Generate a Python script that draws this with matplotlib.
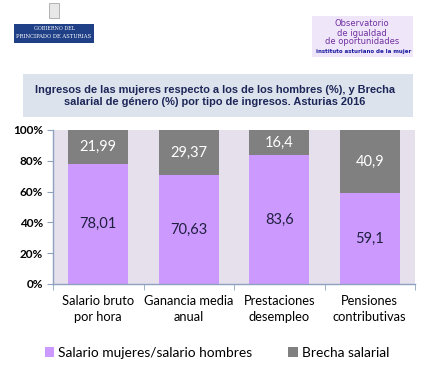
import matplotlib
matplotlib.use("Agg")
import matplotlib.pyplot as plt
from matplotlib.patches import Rectangle
import numpy as np

categories = ["Salario bruto\npor hora", "Ganancia media\nanual", "Prestaciones\ndesempleo", "Pensiones\ncontributivas"]
ratio_vals = [78.01, 70.63, 83.6, 59.1]
gap_vals = [21.99, 29.37, 16.4, 40.9]
ratio_labels = ["78,01", "70,63", "83,6", "59,1"]
gap_labels = ["21,99", "29,37", "16,4", "40,9"]
yticks = [0, 20, 40, 60, 80, 100]
ytick_labels = ["0%", "20%", "40%", "60%", "80%", "100%"]

W, H = 445, 375
fig = plt.figure(figsize=(W/100, H/100), dpi=100)
fig.patch.set_facecolor("white")

FONT = ["Lato", "DejaVu Sans"]
purple = "#cc99ff"
gray = "#808080"

def fx(x): return x / W
def fy(y): return 1 - y / H

# Header logos
fig.patches.append(Rectangle((fx(14), fy(43)), fx(80), 19/H, transform=fig.transFigure,
                             facecolor="#1f3f86", edgecolor="none"))
fig.text(fx(54), fy(29), "GOBIERNO DEL", fontsize=3.5, color="white", ha="center", va="center",
         family="DejaVu Serif")
fig.text(fx(54), fy(37), "PRINCIPADO DE ASTURIAS", fontsize=3.8, color="white", ha="center", va="center",
         family="DejaVu Serif")
fig.patches.append(Rectangle((fx(49), fy(18)), fx(10), 15/H, transform=fig.transFigure,
                             facecolor="#e8e8e8", edgecolor="#999999", linewidth=0.5))

fig.patches.append(Rectangle((fx(312), fy(57)), fx(101), 41/H, transform=fig.transFigure,
                             facecolor="#f0e6fa", edgecolor="none"))
fig.text(fx(362), fy(24), "Observatorio", fontsize=6, color="#7030a0", ha="center", va="center", family=["DejaVu Sans"])
fig.text(fx(362), fy(33), "de igualdad", fontsize=6, color="#7030a0", ha="center", va="center", family=["DejaVu Sans"])
fig.text(fx(362), fy(42), "de oportunidades", fontsize=6, color="#7030a0", ha="center", va="center", family=["DejaVu Sans"])
fig.text(fx(364), fy(51), "instituto asturiano de la mujer", fontsize=4.0, color="#1a1aa0", ha="center",
         va="center", fontweight="bold", family=["Liberation Sans Narrow", "DejaVu Sans"])

# Title box
fig.patches.append(Rectangle((fx(23), fy(117)), fx(390), 43/H, transform=fig.transFigure,
                             facecolor="#dde3ed", edgecolor="none"))
fig.text(fx(215), fy(96), "Ingresos de las mujeres respecto a los de los hombres (%), y Brecha\n"
         "salarial de género (%) por tipo de ingresos. Asturias 2016",
         fontsize=7.9, color="#1c2657", ha="center", va="center", fontweight="bold",
         linespacing=1.25, family=["Liberation Sans Narrow", "Liberation Sans", "DejaVu Sans"])

# Axes
ax = fig.add_axes([fx(53), fy(284), (415-53)/W, (284-130)/H])
ax.set_facecolor("#e6e0ec")
x = np.arange(len(categories))
bw = 0.66
ax.bar(x, ratio_vals, bw, color=purple, label="Salario mujeres/salario hombres", zorder=2)
ax.bar(x, gap_vals, bw, bottom=ratio_vals, color=gray, label="Brecha salarial", zorder=2)
for i in range(len(categories)):
    ax.text(x[i], ratio_vals[i]/2, ratio_labels[i], ha="center", va="center", fontsize=10.5,
            color="#1f1f3f", family=FONT)
    ax.text(x[i], ratio_vals[i] + gap_vals[i]/2, gap_labels[i], ha="center", va="center", fontsize=10.5,
            color="white", family=FONT)

ax.set_xlim(-0.5, len(categories) - 0.5)
ax.set_ylim(0, 100)
ax.set_yticks(yticks)
ax.set_yticklabels(ytick_labels, family=FONT, fontsize=8.5, fontweight="bold")
ax.set_xticks(x)
ax.set_xticklabels([""] * len(categories))
for i, c in enumerate(categories):
    for j, line in enumerate(c.split("\n")):
        ax.annotate(line, xy=(x[i], 0), xycoords=("data", "axes fraction"),
                    xytext=(0, -12 - j * 12), textcoords="offset points",
                    ha="center", va="center", fontsize=9.3, family=FONT, annotation_clip=False)
ax.set_xticks(np.arange(len(categories) + 1) - 0.5, minor=True)
ax.tick_params(axis="x", which="major", length=0, pad=8)
ax.tick_params(axis="x", which="minor", length=4, color="#8ea2c0", direction="out")
ax.tick_params(axis="y", length=4, color="#8ea2c0", direction="out", pad=3)
for s in ["top", "right"]:
    ax.spines[s].set_visible(False)
for s in ["left", "bottom"]:
    ax.spines[s].set_color("#8ea2c0")
    ax.spines[s].set_linewidth(1)

handles, labels = ax.get_legend_handles_labels()
leg = fig.legend(handles, labels, loc="center", bbox_to_anchor=(fx(217), fy(353)), ncol=2,
                 frameon=False, prop={"family": FONT, "size": 9.9}, handlelength=0.7, handleheight=0.7,
                 handletextpad=0.3, columnspacing=2.6)

fig.savefig("out.png", dpi=100)
